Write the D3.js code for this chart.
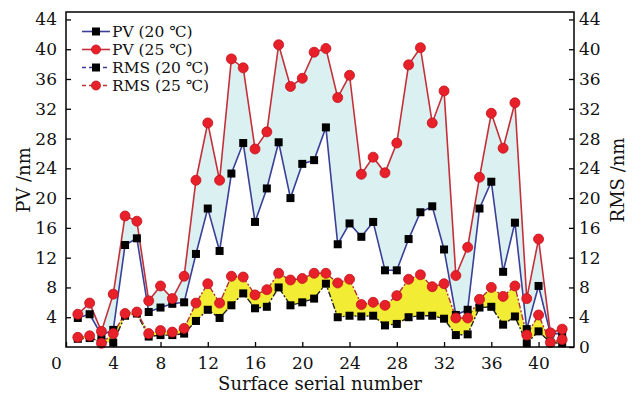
<!DOCTYPE html>
<html>
<head>
<meta charset="utf-8">
<script src="https://cdn.jsdelivr.net/npm/d3@7"></script>
<style>
  body { margin: 0; background: #fff; }
  text { font-family: "DejaVu Serif", serif; fill: #111; }
</style>
</head>
<body>
<svg id="chart" width="641" height="402"></svg>
<script>
const serial = d3.range(1, 43);

const pv20 = [3.9, 4.4, 1.6, 2.3, 13.7, 14.6, 4.7, 5.3, 5.8, 6.0, 12.5, 18.6, 12.9, 23.3, 27.4, 16.8, 21.3, 27.5, 20.0, 24.6, 25.1,
  29.5, 13.8, 16.6, 14.8, 16.8, 10.3, 10.3, 14.5, 18.1, 18.9, 13.1, 4.3, 5.0, 18.6, 22.2, 10.1, 16.7, 2.4, 8.2, 1.8, 1.8];
const pv25 = [4.4, 5.9, 2.1, 7.1, 17.6, 16.9, 6.2, 8.2, 6.5, 9.5, 22.4, 30.1, 22.4, 38.7, 37.5, 26.6, 28.9, 40.6, 35.0, 36.1, 39.6,
  40.1, 33.5, 36.5, 23.2, 25.5, 23.4, 27.4, 37.9, 40.2, 30.1, 34.4, 9.6, 13.4, 22.8, 31.4, 26.7, 32.8, 6.5, 14.5, 1.9, 2.4];
const rms20 = [1.1, 1.2, 0.7, 0.6, 4.2, 4.5, 1.4, 1.6, 1.6, 1.8, 3.5, 5.0, 3.9, 5.6, 7.2, 5.2, 5.4, 8.0, 5.6, 6.0, 6.5,
  8.5, 4.0, 4.2, 4.1, 4.2, 2.9, 3.1, 4.0, 4.2, 4.2, 3.8, 1.6, 1.7, 5.3, 5.4, 3.0, 4.1, 0.5, 2.1, 0.6, 0.5];
const rms25 = [1.3, 1.5, 0.5, 1.8, 4.5, 4.7, 1.8, 2.2, 2.0, 2.5, 5.9, 8.5, 5.9, 9.5, 9.4, 7.0, 7.7, 9.9, 9.0, 9.2, 9.9,
  9.9, 8.6, 9.1, 5.7, 6.0, 5.6, 6.9, 9.1, 9.7, 8.1, 8.5, 3.9, 3.9, 6.4, 8.0, 6.8, 8.2, 1.6, 4.3, 0.6, 1.0];

const xTicks = d3.range(0, 41, 4);
const leftTicks = d3.range(4, 45, 4);
const rightTicks = d3.range(0, 45, 4);

const legendItems = [
  { label: 'PV (20 \u2103)', kind: 'square', color: '#3a3f98', dash: null },
  { label: 'PV (25 \u2103)', kind: 'circle', color: '#c4303a', dash: null },
  { label: 'RMS (20 \u2103)', kind: 'square', color: '#3a3f98', dash: '4,3' },
  { label: 'RMS (25 \u2103)', kind: 'circle', color: '#c4303a', dash: '4,3' }
];

const margin = { left: 66, right: 67, top: 12, bottom: 55 };
const width = 641;
const height = 402;

const svg = d3.select('#chart');

const x = d3.scaleLinear().domain([0, 43]).range([margin.left, width - margin.right]);
const y = d3.scaleLinear().domain([0, 45]).range([height - margin.bottom, margin.top]);

const rows = serial.map((s, i) => ({ s, pv20: pv20[i], pv25: pv25[i], rms20: rms20[i], rms25: rms25[i] }));

// shaded bands
const band = (lo, hi) => d3.area().x(d => x(d.s)).y0(d => y(d[lo])).y1(d => y(d[hi]));
svg.append('path').datum(rows).attr('d', band('pv20', 'pv25')).attr('fill', '#dbf0f0');
svg.append('path').datum(rows).attr('d', band('rms20', 'rms25')).attr('fill', '#f2ec34');

// lines
const line = key => d3.line().x(d => x(d.s)).y(d => y(d[key]));
svg.append('path').datum(rows).attr('d', line('pv20')).attr('fill', 'none').attr('stroke', '#3a3f98').attr('stroke-width', 1.6);
svg.append('path').datum(rows).attr('d', line('pv25')).attr('fill', 'none').attr('stroke', '#c4303a').attr('stroke-width', 1.6);
svg.append('path').datum(rows).attr('d', line('rms20')).attr('fill', 'none').attr('stroke', '#222').attr('stroke-width', 1.4)
  .attr('stroke-dasharray', '6,2,2,2');
svg.append('path').datum(rows).attr('d', line('rms25')).attr('fill', 'none').attr('stroke', '#b0303a').attr('stroke-width', 1.4)
  .attr('stroke-dasharray', '6,2,2,2');

// markers
const squares = key => svg.append('g').selectAll('rect').data(rows).join('rect')
  .attr('x', d => x(d.s) - 4).attr('y', d => y(d[key]) - 4)
  .attr('width', 8).attr('height', 8).attr('fill', '#000');
const circles = key => svg.append('g').selectAll('circle').data(rows).join('circle')
  .attr('cx', d => x(d.s)).attr('cy', d => y(d[key])).attr('r', 5)
  .attr('fill', '#e8202a').attr('stroke', '#c0141e').attr('stroke-width', 0.8);
squares('pv20');
squares('rms20');
circles('pv25');
circles('rms25');

// frame
svg.append('rect')
  .attr('x', margin.left).attr('y', margin.top)
  .attr('width', width - margin.left - margin.right)
  .attr('height', height - margin.top - margin.bottom)
  .attr('fill', 'none').attr('stroke', '#000').attr('stroke-width', 1.5);

// axes (ticks pointing inward)
const bottom = svg.append('g').attr('transform', `translate(0,${height - margin.bottom})`)
  .call(d3.axisBottom(x).tickValues(xTicks).tickSizeInner(-5).tickSizeOuter(0).tickPadding(10));
const left = svg.append('g').attr('transform', `translate(${margin.left},0)`)
  .call(d3.axisLeft(y).tickValues(leftTicks).tickSizeInner(-5).tickSizeOuter(0).tickPadding(9));
const right = svg.append('g').attr('transform', `translate(${width - margin.right},0)`)
  .call(d3.axisRight(y).tickValues(rightTicks).tickSizeInner(-5).tickSizeOuter(0).tickPadding(5));

[bottom, left, right].forEach(g => {
  g.select('.domain').remove();
  g.selectAll('line').attr('stroke', '#000').attr('stroke-width', 1.3);
  g.selectAll('text').attr('font-family', '"DejaVu Serif", serif').attr('font-size', 17).attr('fill', '#111');
});
bottom.selectAll('.tick text').filter(d => d === 0).attr('dx', -10);

// axis titles
svg.append('text').attr('x', 320).attr('y', 390).attr('text-anchor', 'middle')
  .attr('font-size', 18).text('Surface serial number');
svg.append('text').attr('transform', 'translate(30,180) rotate(-90)').attr('text-anchor', 'middle')
  .attr('font-size', 18).text('PV /nm');
svg.append('text').attr('transform', 'translate(624,180) rotate(-90)').attr('text-anchor', 'middle')
  .attr('font-size', 18).text('RMS /nm');

// legend
const legend = svg.append('g').attr('transform', 'translate(82,31.5)');
legendItems.forEach((item, i) => {
  const g = legend.append('g').attr('transform', `translate(0,${i * 18})`);
  g.append('line').attr('x1', 0).attr('x2', 28).attr('stroke', item.color).attr('stroke-width', 1.6)
    .attr('stroke-dasharray', item.dash);
  if (item.kind === 'square') {
    g.append('rect').attr('x', 10).attr('y', -4).attr('width', 8).attr('height', 8).attr('fill', '#000');
  } else {
    g.append('circle').attr('cx', 14).attr('r', 4.5).attr('fill', '#e8202a').attr('stroke', '#c0141e').attr('stroke-width', 0.8);
  }
  g.append('text').attr('x', 30).attr('y', 5.5).attr('font-size', 15.5).text(item.label);
});
</script>
</body>
</html>
